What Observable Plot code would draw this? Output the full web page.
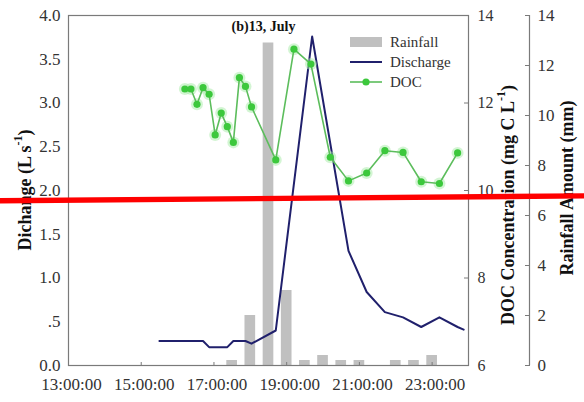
<!DOCTYPE html>
<html>
<head>
<meta charset="utf-8">
<script src="https://cdn.jsdelivr.net/npm/d3@7"></script>
<script src="https://cdn.jsdelivr.net/npm/@observablehq/plot@0.6"></script>
<style>
  html, body { margin: 0; padding: 0; background: #fff; }
  #chart { width: 584px; height: 402px; }
  #chart svg { display: block; }
</style>
</head>
<body>
<div id="chart"></div>
<script>
// Stream discharge (L s-1) through the storm of 13 July
const dischargeTimes  = ["15:30", "16:42", "16:52", "17:22", "17:32", "17:52", "18:02", "18:42", "19:42",
                         "20:42", "21:12", "21:42", "22:12", "22:42", "23:12", "23:42", "23:52"];
const dischargeValues = [0.28, 0.28, 0.21, 0.21, 0.28, 0.28, 0.25, 0.40, 3.76,
                         1.31, 0.84, 0.61, 0.55, 0.44, 0.55, 0.44, 0.41];

// DOC concentration (mg C L-1)
const docTimes  = ["16:12", "16:22", "16:32", "16:42", "16:52", "17:02", "17:12", "17:22", "17:32", "17:42",
                   "17:52", "18:02", "18:42", "19:12", "19:40", "20:12", "20:42", "21:12", "21:42", "22:12",
                   "22:42", "23:12", "23:42"];
const docValues = [12.32, 12.32, 11.97, 12.35, 12.20, 11.27, 11.77, 11.46, 11.10, 12.58,
                   12.38, 11.91, 10.70, 13.23, 12.89, 10.76, 10.22, 10.40, 10.91, 10.87,
                   10.20, 10.16, 10.86];

// Half-hourly rainfall amount (mm), bars centred on the half hour
const rainTimes  = ["17:30", "18:00", "18:30", "19:00", "19:30", "20:00", "20:30", "21:00", "22:00", "22:30", "23:00"];
const rainValues = [0.2, 2.0, 12.9, 3.0, 0.2, 0.4, 0.2, 0.2, 0.2, 0.2, 0.4];

// Axis ticks
const xTickLabels = ["13:00:00", "15:00:00", "17:00:00", "19:00:00", "21:00:00", "23:00:00"];
const dischargeTicks = [0, 0.5, 1, 1.5, 2, 2.5, 3, 3.5, 4];
const dischargeTickLabels = ["0.0", ".5", "1.0", "1.5", "2.0", "2.5", "3.0", "3.5", "4.0"];
const docTicks = [6, 8, 10, 12, 14];
const rainTicks = [0, 2, 4, 6, 8, 10, 12, 14];

const day = "2013-07-13";
const parseTime = d3.utcParse("%Y-%m-%d %H:%M");
const parseTick = d3.utcParse("%Y-%m-%d %H:%M:%S");
const at = s => parseTime(`${day} ${s}`);
const xStart = at("13:00");
const xEnd = d3.utcHour.offset(xStart, 11);

// The DOC and rainfall series share the discharge axis (0–4) through linear maps
const docToQ = d3.scaleLinear([6, 14], [0, 4]);
const rainToQ = d3.scaleLinear([0, 14], [0, 4]);

const discharge = dischargeTimes.map((s, i) => ({time: at(s), q: dischargeValues[i]}));
const doc = docTimes.map((s, i) => ({time: at(s), value: docValues[i], q: docToQ(docValues[i])}));
const halfBar = 8.8 * 60 * 1000;
const rain = rainTimes.map((s, i) => ({
  x1: new Date(+at(s) - halfBar), x2: new Date(+at(s) + halfBar), q: rainToQ(rainValues[i])
}));

const xTickDates = xTickLabels.map(s => parseTick(`${day} ${s}`));
const xLabelOf = new Map(xTickDates.map((d, i) => [+d, xTickLabels[i]]));
const qLabelOf = new Map(dischargeTicks.map((d, i) => [d, dischargeTickLabels[i]]));
const docPos = docTicks.map(d => docToQ(d));
const docLabelOf = new Map(docTicks.map(d => [docToQ(d), String(d)]));
const rainPos = rainTicks.map(d => rainToQ(d));
const rainLabelOf = new Map(rainTicks.map(d => [rainToQ(d), String(d)]));

const serif = '"Liberation Serif", "Times New Roman", serif';
const axisGray = "#7a7a7a";
const textGray = "#333";

const plot = Plot.plot({
  width: 584,
  height: 402,
  marginTop: 15,
  marginBottom: 37,
  marginLeft: 68,
  marginRight: 116,
  style: {fontFamily: serif, fontSize: "17px", color: textGray, background: "#fff"},
  x: {type: "utc", domain: [xStart, xEnd], axis: null},
  y: {domain: [0, 4], axis: null},
  marks: [
    // rainfall bars
    Plot.rect(rain, {x1: "x1", x2: "x2", y1: 0, y2: "q", fill: "#c0c0c0"}),
    // discharge hydrograph
    Plot.line(discharge, {x: "time", y: "q", stroke: "#20206c", strokeWidth: 2}),
    // soft halo under the DOC series
    Plot.line(doc, {x: "time", y: "q", stroke: "#a8eca8", strokeWidth: 7, strokeOpacity: 0.4, ariaLabel: "doc-glow"}),
    Plot.dot(doc, {x: "time", y: "q", r: 6, fill: "#a8eca8", fillOpacity: 0.5, ariaLabel: "doc-glow"}),
    // DOC series
    Plot.line(doc, {x: "time", y: "q", stroke: "#5cbd5c", strokeWidth: 1.6}),
    Plot.dot(doc, {x: "time", y: "q", r: 3.6, fill: "#3cc83c"}),
    // plot frame
    Plot.frame({stroke: axisGray, strokeWidth: 1.2}),
    // left discharge axis
    Plot.axisY(dischargeTicks, {anchor: "left", tickSize: 0, tickPadding: 8, fontSize: 17,
      tickFormat: d => qLabelOf.get(d), label: null, fill: textGray}),
    // DOC axis on the frame's right edge, inward ticks
    Plot.axisY(docPos, {anchor: "right", tickSize: 5, dx: -5, tickFormat: () => "", label: null, stroke: axisGray}),
    Plot.axisY(docPos, {anchor: "right", tickSize: 0, tickPadding: 9, fontSize: 16,
      tickFormat: d => docLabelOf.get(d), label: null, fill: textGray}),
    // rainfall axis, offset further right
    Plot.ruleX([xEnd], {dx: 61, stroke: axisGray, strokeWidth: 1.2}),
    Plot.axisY(rainPos, {anchor: "right", tickSize: 5, dx: 56, tickFormat: () => "", label: null, stroke: axisGray}),
    Plot.axisY(rainPos, {anchor: "right", tickSize: 0, dx: 61, tickPadding: 8, fontSize: 17,
      tickFormat: d => rainLabelOf.get(d), label: null, fill: textGray}),
    // time axis
    Plot.axisX(xTickDates, {anchor: "bottom", tickSize: 3, dy: -3, tickFormat: () => "", label: null, stroke: axisGray}),
    Plot.axisX(xTickDates, {anchor: "bottom", tickSize: 0, tickPadding: 12, dx: 3, fontSize: 17,
      tickFormat: d => xLabelOf.get(+d), label: null, fill: textGray})
  ]
});

document.getElementById("chart").append(plot);

const svg = d3.select(plot);
svg.selectAll('g[aria-label="doc-glow"]').style("filter", "blur(2px)");

// Axis titles with superscript units
function rotatedTitle(x, y, main, sup, tail) {
  const t = svg.append("text")
    .attr("transform", `translate(${x},${y}) rotate(-90)`)
    .attr("text-anchor", "middle")
    .attr("dominant-baseline", "central")
    .attr("font-family", serif)
    .attr("font-weight", "bold")
    .attr("font-size", 18)
    .attr("fill", "#111");
  t.append("tspan").text(main);
  if (sup) {
    t.append("tspan").attr("font-size", 12).attr("dy", -7).text(sup);
    t.append("tspan").attr("dy", 7).text(tail);
  }
  return t;
}
rotatedTitle(25, 190, "Dichange (L s", "-1", ")");
rotatedTitle(508, 205, "DOC Concentration (mg C L", "-1", ")");
rotatedTitle(567, 188, "Rainfall Amount (mm)");

// Panel title
svg.append("text")
  .attr("x", 263.5).attr("y", 31)
  .attr("text-anchor", "middle")
  .attr("font-family", serif).attr("font-weight", "bold").attr("font-size", 14)
  .attr("fill", "#111")
  .text("(b)13, July");

// Legend
const legend = svg.append("g")
  .attr("font-family", serif).attr("font-size", 15).attr("fill", textGray)
  .attr("text-anchor", "start");
legend.append("rect").attr("x", 350).attr("y", 37).attr("width", 32).attr("height", 10).attr("fill", "#c0c0c0");
legend.append("line").attr("x1", 350).attr("x2", 382).attr("y1", 62).attr("y2", 62)
  .attr("stroke", "#20206c").attr("stroke-width", 2);
legend.append("line").attr("x1", 350).attr("x2", 382).attr("y1", 82).attr("y2", 82)
  .attr("stroke", "#5cbd5c").attr("stroke-width", 1.6);
legend.append("circle").attr("cx", 366).attr("cy", 82).attr("r", 3.6).attr("fill", "#3cc83c");
[["Rainfall", 47], ["Discharge", 67], ["DOC", 87]].forEach(([label, y]) =>
  legend.append("text").attr("x", 390).attr("y", y).attr("text-anchor", "start").text(label));

// Red guide stroke across the whole figure
svg.append("line")
  .attr("x1", 0).attr("y1", 200.8).attr("x2", 584).attr("y2", 195.9)
  .attr("stroke", "#f00").attr("stroke-width", 5.4);
</script>
</body>
</html>
